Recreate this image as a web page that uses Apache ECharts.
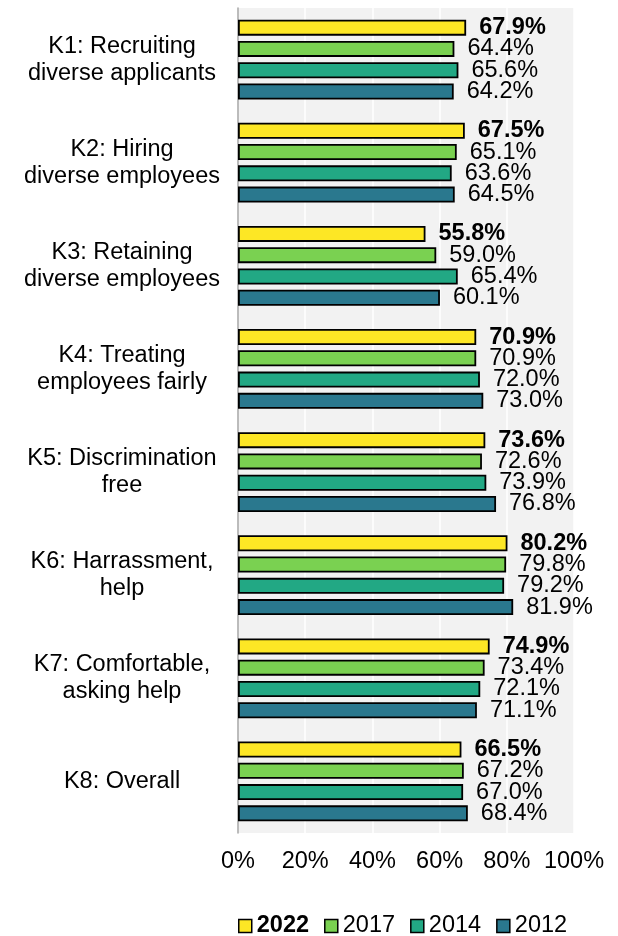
<!DOCTYPE html>
<html>
<head>
<meta charset="utf-8">
<script src="https://cdn.jsdelivr.net/npm/echarts@6/dist/echarts.min.js"></script>
<style>
  html, body { margin: 0; padding: 0; background: #fff; }
  #chart { width: 618px; height: 936px; }
</style>
</head>
<body>
<div id="chart"></div>
<script>
const categories = [
  'K1: Recruiting\ndiverse applicants',
  'K2: Hiring\ndiverse employees',
  'K3: Retaining\ndiverse employees',
  'K4: Treating\nemployees fairly',
  'K5: Discrimination\nfree',
  'K6: Harrassment,\nhelp',
  'K7: Comfortable,\nasking help',
  'K8: Overall',
]
const years = ['2022', '2017', '2014', '2012']
const v2022 = [67.9, 67.5, 55.8, 70.9, 73.6, 80.2, 74.9, 66.5]
const v2017 = [64.4, 65.1, 59.0, 70.9, 72.6, 79.8, 73.4, 67.2]
const v2014 = [65.6, 63.6, 65.4, 72.0, 73.9, 79.2, 72.1, 67.0]
const v2012 = [64.2, 64.5, 60.1, 73.0, 76.8, 81.9, 71.1, 68.4]
const xTicks = [0, 20, 40, 60, 80, 100]

const colors = ['#FDE725', '#7AD151', '#22A884', '#2A788E']
const font = 'Liberation Sans, Arial, sans-serif'
const fs = 23.5

const chart = echarts.init(document.getElementById('chart'))

function makeSeries(name, data, color, bold) {
  return {
    name,
    type: 'bar',
    data,
    barWidth: 16,
    barGap: '33%',
    itemStyle: { color, borderColor: '#000', borderWidth: 1.8 },
    label: {
      show: true,
      position: 'right',
      distance: 13,
      color: '#000',
      fontFamily: font,
      fontSize: fs,
      fontWeight: bold ? 'bold' : 'normal',
      formatter: (p) => p.value.toFixed(1) + '%',
    },
  }
}

chart.setOption({
  animation: false,
  textStyle: { fontFamily: font },
  grid: {
    left: 238,
    right: 44,
    top: 8,
    bottom: 103,
    show: true,
    backgroundColor: '#F2F2F2',
    borderWidth: 0,
    containLabel: false,
    outerBoundsMode: 'none',
  },
  legend: {
    left: 238,
    top: 914,
    padding: 0,
    data: years,
    itemWidth: 13,
    itemHeight: 13,
    itemGap: 15,
    icon: 'rect',
    itemStyle: { borderColor: '#000', borderWidth: 1.5 },
    textStyle: {
      fontFamily: font,
      fontSize: fs,
      color: '#000',
      rich: { b: { fontFamily: font, fontSize: fs, fontWeight: 'bold', color: '#000' } },
    },
    formatter: (name) => (name === '2022' ? '{b|2022}' : name),
  },
  xAxis: {
    type: 'value',
    min: 0,
    max: 100,
    interval: 20,
    axisLine: { show: false },
    axisTick: { show: false },
    splitLine: { show: true, lineStyle: { color: '#ffffff', width: 1.5 } },
    axisLabel: {
      margin: 17,
      fontFamily: font,
      fontSize: fs,
      color: '#000',
      formatter: (v) => (xTicks.includes(v) ? v + '%' : ''),
    },
  },
  yAxis: {
    type: 'category',
    data: categories,
    inverse: true,
    axisLine: { show: true, lineStyle: { color: '#A6A6A6', width: 1.5 } },
    axisTick: { show: false },
    axisLabel: {
      align: 'center',
      margin: 116,
      fontFamily: font,
      fontSize: fs,
      lineHeight: 27,
      color: '#000',
    },
  },
  series: [
    makeSeries('2022', v2022, colors[0], true),
    makeSeries('2017', v2017, colors[1], false),
    makeSeries('2014', v2014, colors[2], false),
    makeSeries('2012', v2012, colors[3], false),
  ],
})
</script>
</body>
</html>
